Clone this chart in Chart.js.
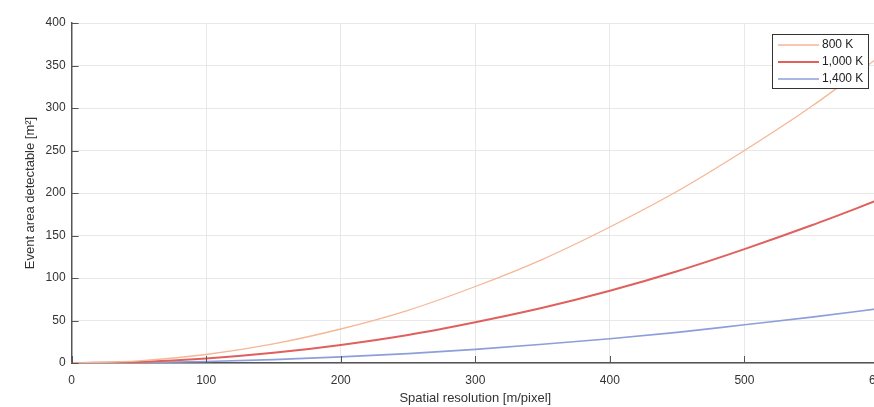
<!DOCTYPE html>
<html lang="en">
<head>
  <meta charset="UTF-8">
  <title>Event area vs spatial resolution</title>
  <style>
    * { box-sizing: border-box; margin: 0; padding: 0; }
    html, body { width: 874px; height: 407px; overflow: hidden; background: #fff; }
    .chart-box { width: 900px; height: 407px; }
  </style>
</head>
<body>
  <div class="chart-box"><canvas id="areaChart"></canvas></div>

  <script src="https://cdn.jsdelivr.net/npm/chart.js"></script>
  <script>
    // values
    const resolution = [0, 50, 100, 150, 200, 250, 300, 350, 400, 450, 500, 550, 600];
    const area800 =  [0, 2.5, 10, 22.5, 40, 62, 90, 122, 160, 202, 250, 302, 360];
    const area1000 = [0, 1.3, 5.3, 12, 21.3, 33, 48, 65, 85, 108, 134, 162, 192];
    const area1400 = [0, 0.45, 1.8, 4, 7.2, 11, 16, 22, 28.5, 36, 45, 54, 64];
    const seriesLabels = ['800 K', '1,000 K', '1,400 K'];
    const xTicks = [0, 100, 200, 300, 400, 500, 600];
    const yTicks = [0, 50, 100, 150, 200, 250, 300, 350, 400];

    const toPoints = ys => ys.map((y, i) => ({ x: resolution[i], y: y }));
    const font = 'Liberation Sans, Arial, sans-serif';

    // boxed legend in the upper right, like the original
    const boxLegend = {
      id: 'boxLegend',
      afterDatasetsDraw(chart) {
        const ctx = chart.ctx;
        const x0 = 772, y0 = 34, w = 96, h = 54;
        ctx.save();
        ctx.fillStyle = '#fff';
        ctx.fillRect(x0, y0, w, h);
        ctx.strokeStyle = '#333';
        ctx.lineWidth = 1;
        ctx.strokeRect(x0 + 0.5, y0 + 0.5, w, h);
        ctx.font = '12px ' + font;
        ctx.textBaseline = 'middle';
        chart.data.datasets.forEach((ds, i) => {
          const y = y0 + 11 + i * 17;
          ctx.strokeStyle = ds.borderColor;
          ctx.lineWidth = ds.borderWidth;
          ctx.beginPath();
          ctx.moveTo(x0 + 6, y);
          ctx.lineTo(x0 + 47, y);
          ctx.stroke();
          ctx.fillStyle = '#222';
          ctx.fillText(ds.label, x0 + 50, y);
        });
        ctx.restore();
      }
    };

    // small inward tick marks on both axes
    const innerTicks = {
      id: 'innerTicks',
      afterDraw(chart) {
        const { ctx, chartArea: a, scales } = chart;
        ctx.save();
        ctx.strokeStyle = '#555';
        ctx.lineWidth = 1;
        ctx.beginPath();
        xTicks.forEach(v => {
          const px = Math.round(scales.x.getPixelForValue(v)) + 0.5;
          ctx.moveTo(px, a.bottom);
          ctx.lineTo(px, a.bottom - 7);
        });
        yTicks.forEach(v => {
          const py = Math.round(scales.y.getPixelForValue(v)) + 0.5;
          ctx.moveTo(a.left, py);
          ctx.lineTo(a.left + 7, py);
        });
        ctx.stroke();
        ctx.restore();
      }
    };

    new Chart(document.getElementById('areaChart'), {
      type: 'line',
      data: {
        datasets: [
          { label: seriesLabels[0], data: toPoints(area800), borderColor: '#f5b796', borderWidth: 1.3 },
          { label: seriesLabels[1], data: toPoints(area1000), borderColor: '#e0605e', borderWidth: 2 },
          { label: seriesLabels[2], data: toPoints(area1400), borderColor: '#8d9fd9', borderWidth: 1.6 }
        ]
      },
      options: {
        responsive: true,
        maintainAspectRatio: false,
        animation: false,
        layout: { padding: { top: 23, right: 21, left: 23, bottom: 1 } },
        elements: { point: { radius: 0 }, line: { cubicInterpolationMode: 'monotone', fill: false } },
        plugins: { legend: { display: false }, tooltip: { enabled: false } },
        scales: {
          x: {
            type: 'linear', min: 0, max: 600,
            afterBuildTicks: s => { s.ticks = xTicks.map(v => ({ value: v })); },
            grid: { color: '#e8e8e8', drawTicks: false },
            border: { color: '#555', width: 1.5 },
            ticks: { color: '#333', font: { family: font, size: 12 }, padding: 10, maxRotation: 0 },
            title: { display: true, text: 'Spatial resolution [m/pixel]', color: '#333',
                     font: { family: font, size: 13 }, padding: { top: -7, bottom: 0 } }
          },
          y: {
            min: 0, max: 400,
            afterBuildTicks: s => { s.ticks = yTicks.map(v => ({ value: v })); },
            grid: { color: '#e8e8e8', drawTicks: false },
            border: { color: '#555', width: 1.5 },
            ticks: { color: '#333', font: { family: font, size: 12 }, padding: 6 },
            title: { display: true, text: 'Event area detectable [m²]', color: '#333',
                     font: { family: font, size: 13 }, padding: { top: 0, bottom: 1 } }
          }
        }
      },
      plugins: [innerTicks, boxLegend]
    });
  </script>
</body>
</html>
